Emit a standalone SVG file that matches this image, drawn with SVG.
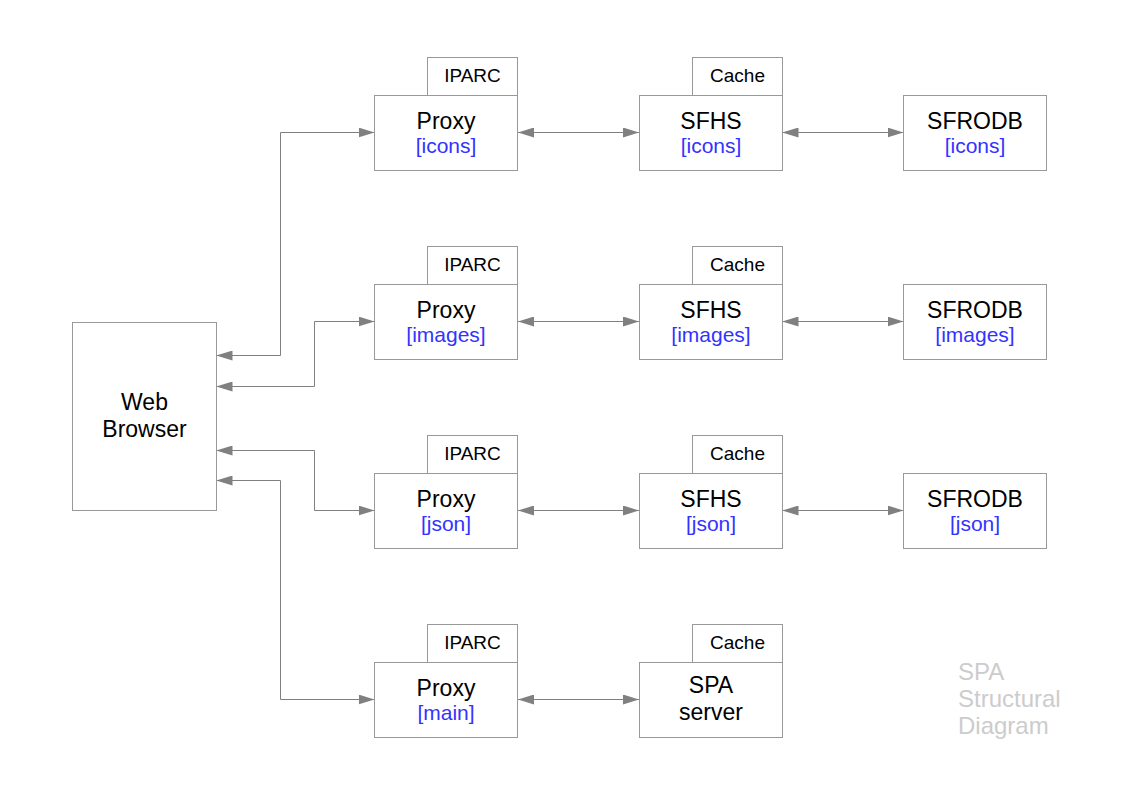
<svg xmlns="http://www.w3.org/2000/svg" width="1123" height="794" viewBox="0 0 1123 794">
<style>
.box{fill:#fff;stroke:#999;stroke-width:1}
.t{font-family:"Liberation Sans",Arial,sans-serif;text-anchor:middle;fill:#000}
.m{font-size:23px}
.s{font-size:21px;fill:#3333ff}
.tab{font-size:19px}
.c{fill:none;stroke:#808080;stroke-width:1;marker-start:url(#ah);marker-end:url(#ah)}
.wm{font-family:"Liberation Sans",Arial,sans-serif;font-size:24px;fill:#cccccc}
</style>
<defs>
<marker id="ah" markerUnits="userSpaceOnUse" markerWidth="16" markerHeight="10" refX="16" refY="5" orient="auto-start-reverse" viewBox="0 0 16 10">
<path d="M0,0 L16,5 L0,10 z" fill="#808080"/>
</marker>
</defs>
<rect width="1123" height="794" fill="#fff"/>
<g id="connectors">
<path class="c" d="M216.5,355.5 H280.5 V132.5 H374.5"/>
<path class="c" d="M216.5,386.5 H314.5 V321.5 H374.5"/>
<path class="c" d="M216.5,450.5 H314.5 V510.5 H374.5"/>
<path class="c" d="M216.5,480.5 H280.5 V699.5 H374.5"/>
<path class="c" d="M518,132.5 H639"/>
<path class="c" d="M782.5,132.5 H903.5"/>
<path class="c" d="M518,321.5 H639"/>
<path class="c" d="M782.5,321.5 H903.5"/>
<path class="c" d="M518,510.5 H639"/>
<path class="c" d="M782.5,510.5 H903.5"/>
<path class="c" d="M518,699.5 H639"/>
</g>
<g id="browser">
<rect class="box" x="72.5" y="322.5" width="144" height="188"/>
<text class="t m" x="144.5" y="410">Web</text>
<text class="t m" x="144.5" y="437">Browser</text>
</g>
<g id="proxy-icons">
<rect class="box" x="427.5" y="57.5" width="90" height="38"/>
<text class="t tab" x="472.5" y="82">IPARC</text>
<rect class="box" x="374.5" y="95.5" width="143" height="75"/>
<text class="t m" x="446" y="129">Proxy</text>
<text class="t s" x="446" y="153">[icons]</text>
</g>
<g id="sfhs-icons">
<rect class="box" x="692.5" y="57.5" width="90" height="38"/>
<text class="t tab" x="737.5" y="82">Cache</text>
<rect class="box" x="639.5" y="95.5" width="143" height="75"/>
<text class="t m" x="711" y="129">SFHS</text>
<text class="t s" x="711" y="153">[icons]</text>
</g>
<g id="sfrodb-icons">
<rect class="box" x="903.5" y="95.5" width="143" height="75"/>
<text class="t m" x="975" y="129">SFRODB</text>
<text class="t s" x="975" y="153">[icons]</text>
</g>
<g id="proxy-images">
<rect class="box" x="427.5" y="246.5" width="90" height="38"/>
<text class="t tab" x="472.5" y="271">IPARC</text>
<rect class="box" x="374.5" y="284.5" width="143" height="75"/>
<text class="t m" x="446" y="318">Proxy</text>
<text class="t s" x="446" y="342">[images]</text>
</g>
<g id="sfhs-images">
<rect class="box" x="692.5" y="246.5" width="90" height="38"/>
<text class="t tab" x="737.5" y="271">Cache</text>
<rect class="box" x="639.5" y="284.5" width="143" height="75"/>
<text class="t m" x="711" y="318">SFHS</text>
<text class="t s" x="711" y="342">[images]</text>
</g>
<g id="sfrodb-images">
<rect class="box" x="903.5" y="284.5" width="143" height="75"/>
<text class="t m" x="975" y="318">SFRODB</text>
<text class="t s" x="975" y="342">[images]</text>
</g>
<g id="proxy-json">
<rect class="box" x="427.5" y="435.5" width="90" height="38"/>
<text class="t tab" x="472.5" y="460">IPARC</text>
<rect class="box" x="374.5" y="473.5" width="143" height="75"/>
<text class="t m" x="446" y="507">Proxy</text>
<text class="t s" x="446" y="531">[json]</text>
</g>
<g id="sfhs-json">
<rect class="box" x="692.5" y="435.5" width="90" height="38"/>
<text class="t tab" x="737.5" y="460">Cache</text>
<rect class="box" x="639.5" y="473.5" width="143" height="75"/>
<text class="t m" x="711" y="507">SFHS</text>
<text class="t s" x="711" y="531">[json]</text>
</g>
<g id="sfrodb-json">
<rect class="box" x="903.5" y="473.5" width="143" height="75"/>
<text class="t m" x="975" y="507">SFRODB</text>
<text class="t s" x="975" y="531">[json]</text>
</g>
<g id="proxy-main">
<rect class="box" x="427.5" y="624.5" width="90" height="38"/>
<text class="t tab" x="472.5" y="649">IPARC</text>
<rect class="box" x="374.5" y="662.5" width="143" height="75"/>
<text class="t m" x="446" y="696">Proxy</text>
<text class="t s" x="446" y="720">[main]</text>
</g>
<g id="spa-server">
<rect class="box" x="692.5" y="624.5" width="90" height="38"/>
<text class="t tab" x="737.5" y="649">Cache</text>
<rect class="box" x="639.5" y="662.5" width="143" height="75"/>
<text class="t m" x="711" y="693">SPA</text>
<text class="t m" x="711" y="720">server</text>
</g>
<g id="title">
<text class="wm" x="958" y="680">SPA</text>
<text class="wm" x="958" y="707">Structural</text>
<text class="wm" x="958" y="734">Diagram</text>
</g>
</svg>
